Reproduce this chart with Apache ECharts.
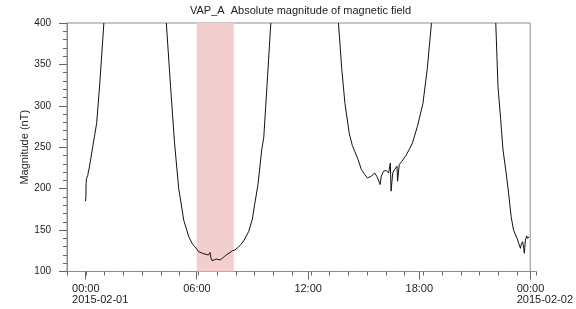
<!DOCTYPE html>
<html>
<head>
<meta charset="utf-8">
<script src="https://cdn.jsdelivr.net/npm/echarts@6/dist/echarts.min.js"></script>
<style>html,body{margin:0;padding:0;background:#fff;}#c{width:576px;height:309px;}</style>
</head>
<body>
<div id="c"></div>
<script>
// Hours since 2015-02-01 00:00 (null value = data gap, field above plotted range)
var hours = [
  0.00,0.02,0.03,0.05,0.08,0.12,0.15,0.20,0.40,0.60,0.77,0.99, 2.5,
  4.36,4.59,4.80,5.03,5.30,5.57,5.75,5.89,6.00,6.10,6.20,6.31,6.45,6.55,6.63,6.72,6.76,6.83,6.95,7.06,7.15,7.27,7.38,7.49,7.60,7.70,7.80,7.91,8.06,8.23,8.40,8.56,8.80,9.00,9.12,9.30,9.51,9.62,9.79,10.00, 12.0,
  13.65,13.83,14.00,14.23,14.40,14.53,14.71,14.89,15.07,15.21,15.32,15.43,15.60,15.72,15.80,15.90,15.96,16.08,16.22,16.36,16.45,16.49,16.58,16.67,16.81,16.84,16.93,17.07,17.29,17.46,17.64,17.91,18.21,18.44,18.67, 20.0,
  22.14,22.26,22.40,22.53,22.70,22.83,22.97,23.10,23.29,23.47,23.52,23.59,23.65,23.68,23.74,23.81,23.86,23.94
];
var magnitude = [
  185,190,206,212,210,216,220,225,252,279,327,400, null,
  400,323,256,200,162,142,134,130,127,124,123.5,122,121,119,120,123,117,113,114,115,113,114,116,118,120,122,123,125,126,129,133,138,148,163,180,204,247,262,323,400, null,
  400,344,303,267,252,245,235,223,217,213,214,215,219,215,213,205,215,221,222,219,231,197,219,223,227,209,229,233,240,247,255,275,303,344,400, null,
  400,323,285,247,219,195,166,150,140,128,133,136,128,122,138,143,140,142
];
var bandHours = [6, 8];
var xMajorTicks = [0, 6, 12, 18, 24];
var xTickLabels = ['00:00\n2015-02-01', '06:00', '12:00', '18:00', '00:00\n2015-02-02'];
var xRange = [-1, 24];
var yRange = [100, 400];
var titleText = 'VAP_A  Absolute magnitude of magnetic field';
var yName = 'Magnitude (nT)';

var data = hours.map(function (h, i) {
  return magnitude[i] === null ? [h, '-'] : [h, magnitude[i]];
});
var hourTicks = [];
for (var t = xRange[0]; t <= xRange[1]; t++) hourTicks.push(t);

var font = 'Liberation Sans, Arial, sans-serif';
var axisCol = '#8c8c8c';
var tickCol = '#666';
var txtCol = '#222';
var gridRect = {left: 67, right: 40, top: 23, bottom: 37.5};

var chart = echarts.init(document.getElementById('c'), null, {renderer: 'canvas'});
chart.setOption({
  animation: false,
  title: {
    text: titleText, left: 190, top: 5, padding: 0,
    textStyle: {fontSize: 11, fontWeight: 'normal', color: txtCol, fontFamily: font}
  },
  grid: [
    Object.assign({show: true, borderColor: axisCol, borderWidth: 1, backgroundColor: 'transparent'}, gridRect),
    Object.assign({show: false}, gridRect)
  ],
  xAxis: [{
    gridIndex: 0, type: 'value', min: xRange[0], max: xRange[1], position: 'bottom',
    axisLine: {show: true, onZero: false, lineStyle: {color: axisCol, width: 1}},
    axisTick: {show: true, customValues: xMajorTicks, length: 8, inside: false, lineStyle: {color: tickCol, width: 1}},
    axisLabel: {
      show: true, customValues: xMajorTicks, margin: 12,
      formatter: function (v) {
        var i = xMajorTicks.indexOf(Math.round(v));
        if (i < 0) return '';
        var parts = xTickLabels[i].split('\n');
        return parts.map(function (p) { return '{a|' + p + '}'; }).join('\n');
      },
      rich: {a: {width: 27, align: 'left', fontSize: 11, lineHeight: 11, color: txtCol, fontFamily: font}}
    },
    splitLine: {show: false}
  }, {
    gridIndex: 1, type: 'value', min: xRange[0], max: xRange[1], position: 'bottom',
    axisLine: {show: true, onZero: false, lineStyle: {color: axisCol, width: 1}},
    axisTick: {show: true, customValues: hourTicks, length: 4, inside: false, lineStyle: {color: tickCol, width: 1}},
    axisLabel: {show: false},
    splitLine: {show: false}
  }],
  yAxis: [{
    gridIndex: 0, type: 'value', min: yRange[0], max: yRange[1], interval: 50, position: 'left',
    name: yName, nameLocation: 'middle', nameGap: 37, nameMoveOverlap: false,
    nameTextStyle: {fontSize: 11, color: txtCol, fontFamily: font},
    axisLine: {show: true, onZero: false, lineStyle: {color: axisCol, width: 1}},
    axisTick: {show: true, length: 8, inside: false, lineStyle: {color: tickCol, width: 1}},
    minorTick: {show: true, splitNumber: 5, length: 4, lineStyle: {color: tickCol, width: 1}},
    axisLabel: {fontSize: 10, color: txtCol, margin: 16, fontFamily: font},
    splitLine: {show: false},
    minorSplitLine: {show: false}
  }, {
    gridIndex: 1, type: 'value', min: yRange[0], max: yRange[1], position: 'left', show: false
  }],
  series: [{
    type: 'line', xAxisIndex: 0, yAxisIndex: 0, data: data, showSymbol: false, symbol: 'none',
    connectNulls: false, clip: true,
    lineStyle: {color: '#111', width: 1},
    markArea: {
      silent: true,
      itemStyle: {color: '#f2cecf'},
      data: [[{xAxis: bandHours[0]}, {xAxis: bandHours[1]}]]
    },
    z: 3
  }]
});
</script>
</body>
</html>
